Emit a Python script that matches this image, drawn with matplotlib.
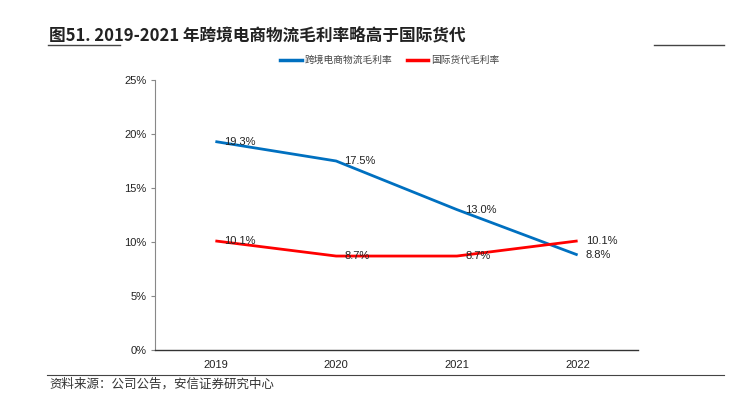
import matplotlib
matplotlib.use("Agg")
import matplotlib.pyplot as plt
from matplotlib.lines import Line2D

plt.rcParams['font.family'] = ['Noto Sans CJK SC', 'DejaVu Sans']

years = ["2019", "2020", "2021", "2022"]
ecommerce = [19.3, 17.5, 13.0, 8.8]
forwarding = [10.1, 8.7, 8.7, 10.1]
series_names = ["跨境电商物流毛利率", "国际货代毛利率"]
yticks = [0, 5, 10, 15, 20, 25]

num_font = ['Liberation Sans', 'DejaVu Sans']

fig = plt.figure(figsize=(7.3, 3.96), dpi=100)
ax = fig.add_axes([155/730, 46/396, (638-155)/730, (350-80)/396])

x = list(range(len(years)))
blue = "#0070C0"
red = "#FF0000"
ax.plot(x, ecommerce, color=blue, lw=2.0, solid_capstyle='butt')
ax.plot(x, forwarding, color=red, lw=2.0, solid_capstyle='butt')

for xi, v in zip(x, ecommerce):
    ax.annotate(f"{v:.1f}%", (xi, v), xytext=(6, 0), textcoords='offset points',
                ha='left', va='center', fontsize=8, color='#222222', family=num_font)
for xi, v in zip(x, forwarding):
    ax.annotate(f"{v:.1f}%", (xi, v), xytext=(6, 0), textcoords='offset points',
                ha='left', va='center', fontsize=8, color='#222222', family=num_font)

ax.set_xlim(-0.5, len(years) - 0.5)
ax.set_ylim(0, 25)
ax.set_xticks(x)
ax.set_xticklabels(years, fontsize=8, family=num_font, color='#222222')
ax.set_yticks(yticks)
ax.set_yticklabels([f"{t}%" for t in yticks], fontsize=8, family=num_font, color='#222222')
ax.tick_params(axis='x', length=0, pad=7)
ax.tick_params(axis='y', length=3, direction='out', color='#888888', pad=3)
for s in ['top', 'right']:
    ax.spines[s].set_visible(False)
ax.spines['left'].set_color('#888888')
ax.spines['left'].set_linewidth(0.8)
ax.spines['bottom'].set_color('#333333')
ax.spines['bottom'].set_linewidth(1.0)

handles = [Line2D([], [], color=blue, lw=2.5), Line2D([], [], color=red, lw=2.5)]
leg = fig.legend(handles, series_names, loc='center', bbox_to_anchor=(390/730, 1 - 60/396),
                 ncol=2, frameon=False, fontsize=7, handlelength=2.2, handletextpad=0.3,
                 columnspacing=1.5)
for t in leg.get_texts():
    t.set_color('#444444')

fig.text(49/730, 1 - 35/396, "图51. 2019-2021 年跨境电商物流毛利率略高于国际货代",
         fontsize=12, fontweight='bold', color='#222222', va='center', ha='left')
fig.add_artist(Line2D([48/730, 120/730], [1 - 45/396, 1 - 45/396], color='#444444', lw=1.0))
fig.add_artist(Line2D([654/730, 724/730], [1 - 45/396, 1 - 45/396], color='#444444', lw=1.0))
fig.add_artist(Line2D([47/730, 724/730], [1 - 375/396, 1 - 375/396], color='#444444', lw=0.8))
fig.text(49/730, 1 - 384/396, "资料来源：公司公告，安信证券研究中心",
         fontsize=9, color='#333333', va='center', ha='left', style='italic')

fig.savefig("out.png", dpi=100)
